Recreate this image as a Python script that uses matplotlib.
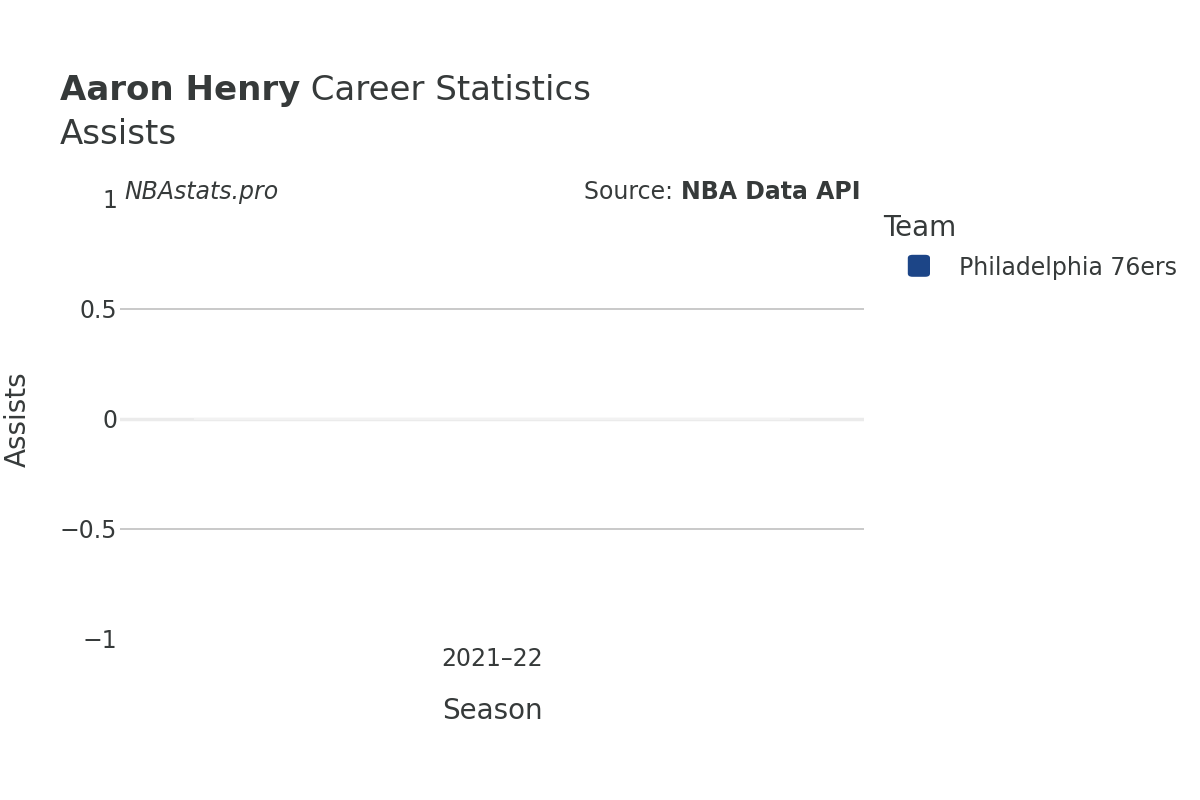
import matplotlib.pyplot as plt
from matplotlib.patches import FancyBboxPatch

# Data
seasons = ['2021–22']
assists = [0]
team = 'Philadelphia 76ers'
team_color = '#1c4587'

text_color = '#363a3a'
grid_color = '#c0c0c0'

fig = plt.figure(figsize=(12, 8), dpi=100)
ax = fig.add_axes([0.1, 0.20125, 0.62, 0.55])

ax.bar(range(len(seasons)), assists, width=0.8, color=team_color, edgecolor='#f2f2f2', linewidth=1.5)
ax.set_xlim(-0.5, len(seasons) - 0.5)
ax.set_ylim(-1, 1)

ax.set_yticks([-1, -0.5, 0, 0.5, 1])
ax.set_yticklabels(['−1', '−0.5', '0', '0.5', '1'])
ax.set_xticks(range(len(seasons)))
ax.set_xticklabels(seasons)
ax.tick_params(axis='both', length=0, labelsize=17, colors=text_color)
ax.tick_params(axis='y', pad=2)
ax.tick_params(axis='x', pad=6)

for y in [-0.5, 0.5]:
    ax.axhline(y, color=grid_color, linewidth=1.2, zorder=0)
ax.axhline(0, color='#ebebeb', linewidth=2.5, zorder=0)

for s in ax.spines.values():
    s.set_visible(False)

ax.set_xlabel('Season', fontsize=20, color=text_color, va='center')
ax.set_ylabel('Assists', fontsize=20, color=text_color, va='center')
ax.xaxis.set_label_coords(0.5, -0.164)
ax.yaxis.set_label_coords(-0.138, 0.5)

fig.canvas.draw()
renderer = fig.canvas.get_renderer()


def text_after(t, s, **kw):
    # place a text right after another one on the same line
    bb = t.get_window_extent(renderer)
    x = bb.x1 / fig.bbox.width
    return fig.text(x, t.get_position()[1], s, **kw)


# Title
t1 = fig.text(0.05, 0.8865, 'Aaron Henry', fontsize=24.5, fontweight='bold', color=text_color, va='center')
text_after(t1, ' Career Statistics', fontsize=24.5, color=text_color, va='center')
fig.text(0.05, 0.8325, 'Assists', fontsize=24.5, color=text_color, va='center')

# Annotations
fig.text(0.104, 0.76, 'NBAstats.pro', fontsize=17, style='italic', color=text_color, va='center')
t2 = fig.text(0.717, 0.76, 'NBA Data API', fontsize=17, fontweight='bold', color=text_color, va='center', ha='right')
bb = t2.get_window_extent(renderer)
fig.text(bb.x0 / fig.bbox.width, 0.76, 'Source: ', fontsize=17, color=text_color, va='center', ha='right')

# Legend
fig.text(0.736, 0.7145, 'Team', fontsize=20, color=text_color, va='center')
fig.patches.append(FancyBboxPatch((0.7565, 0.654), 0.0185, 0.0275, boxstyle='round,pad=0,rounding_size=0.004',
                                  transform=fig.transFigure, facecolor=team_color, edgecolor='none'))
fig.text(0.799, 0.665, team, fontsize=17, color=text_color, va='center')

plt.savefig('out.png', dpi=100)
